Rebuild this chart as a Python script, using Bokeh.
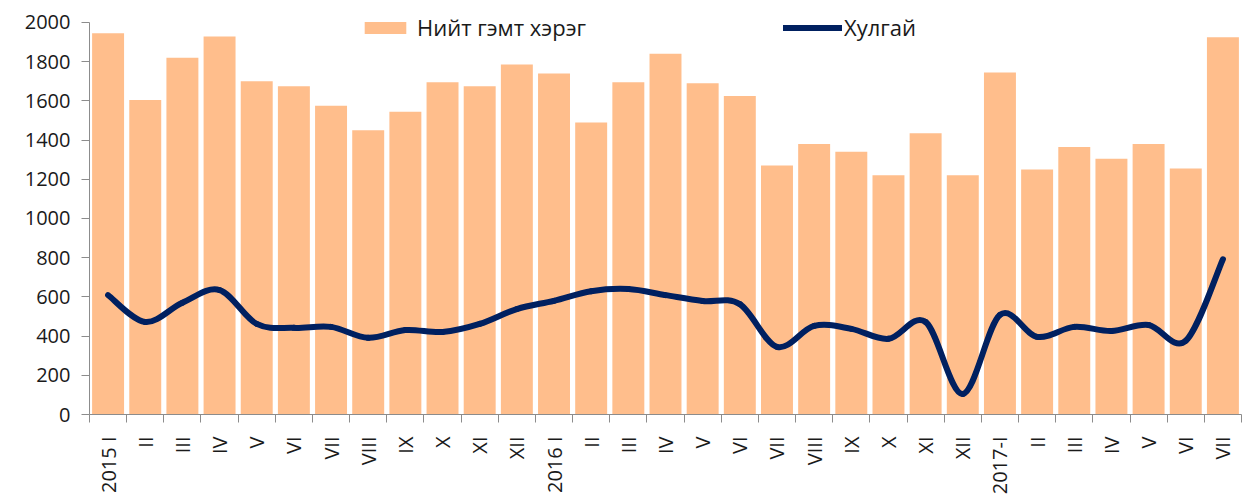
import math
from bokeh.plotting import figure
from bokeh.models import ColumnDataSource, Range1d, FixedTicker, Legend, LegendItem
from bokeh.embed import file_html
from bokeh.resources import INLINE

months = ["2015 I", "II", "III", "IV", "V", "VI", "VII", "VIII", "IX", "X", "XI", "XII",
          "2016 I", "II", "III", "IV", "V", "VI", "VII", "VIII", "IX", "X", "XI", "XII",
          "2017-I", "II", "III", "IV", "V", "VI", "VII"]
total_crime = [1945, 1605, 1820, 1928, 1700, 1675, 1575, 1450, 1545, 1695, 1675, 1785,
               1740, 1490, 1695, 1840, 1690, 1625, 1270, 1380, 1340, 1220, 1435, 1220,
               1745, 1250, 1365, 1305, 1380, 1255, 1925]
theft = [609, 472, 570, 635, 462, 442, 447, 391, 431, 421, 462, 538,
         580, 629, 640, 609, 579, 563, 345, 452, 437, 386, 472, 105,
         508, 396, 447, 426, 457, 376, 792]
y_ticks = [0, 200, 400, 600, 800, 1000, 1200, 1400, 1600, 1800, 2000]

BAR_COLOR = "#FFBE8C"
LINE_COLOR = "#002060"
AXIS_COLOR = "#8C8C8C"
TEXT_COLOR = "#1A1A1A"
FONT = "Open Sans"

n = len(months)
xs = list(range(n))

# frame top sits a little above the 2000 line so the legend is not clipped
p = figure(width=1243, height=497, output_backend="svg", toolbar_location=None,
           x_range=Range1d(-0.5, n - 0.5), y_range=Range1d(0, 2061),
           min_border_left=89, min_border_right=2, min_border_top=10, min_border_bottom=81)
p.outline_line_color = None
p.xgrid.visible = False
p.ygrid.visible = False
p.background_fill_color = "white"
p.border_fill_color = "white"

bar_src = ColumnDataSource(dict(x=xs, top=total_crime))
bars = p.vbar(x="x", top="top", width=0.86, source=bar_src,
              fill_color=BAR_COLOR, line_color=None)

# smoothed line (Excel-style) through the theft values via bezier segments
seg = dict(x0=[], y0=[], x1=[], y1=[], cx0=[], cy0=[], cx1=[], cy1=[])
for i in range(n - 1):
    ip = i - 1 if i > 0 else i
    inx = i + 2 if i + 2 < n else i + 1
    seg["x0"].append(xs[i]); seg["y0"].append(theft[i])
    seg["x1"].append(xs[i + 1]); seg["y1"].append(theft[i + 1])
    seg["cx0"].append(xs[i] + (xs[i + 1] - xs[ip]) / 6.0)
    seg["cy0"].append(theft[i] + (theft[i + 1] - theft[ip]) / 6.0)
    seg["cx1"].append(xs[i + 1] - (xs[inx] - xs[i]) / 6.0)
    seg["cy1"].append(theft[i + 1] - (theft[inx] - theft[i]) / 6.0)
line = p.bezier(x0="x0", y0="y0", x1="x1", y1="y1", cx0="cx0", cy0="cy0",
                cx1="cx1", cy1="cy1", source=ColumnDataSource(seg),
                line_color=LINE_COLOR, line_width=6, line_cap="round")

# axes
ax = p.xaxis[0]
ax.ticker = FixedTicker(ticks=xs, minor_ticks=[i - 0.5 for i in range(n + 1)])
ax.major_label_overrides = {i: m for i, m in enumerate(months)}
ax.major_label_orientation = math.pi / 2
ax.major_tick_out = 0
ax.major_tick_in = 0
ax.minor_tick_out = 8
ax.minor_tick_in = 0
ax.major_label_standoff = 14
ax.axis_line_color = AXIS_COLOR
ax.minor_tick_line_color = AXIS_COLOR
ax.major_label_text_font = FONT
ax.major_label_text_font_size = "20px"
ax.major_label_text_color = TEXT_COLOR

ay = p.yaxis[0]
ay.ticker = FixedTicker(ticks=y_ticks)
ay.bounds = (0, 2000)
ay.major_tick_out = 8
ay.major_tick_in = 0
ay.minor_tick_out = 0
ay.minor_tick_in = 0
ay.major_label_standoff = 11
ay.axis_line_color = AXIS_COLOR
ay.major_tick_line_color = AXIS_COLOR
ay.major_label_text_font = FONT
ay.major_label_text_font_size = "20px"
ay.major_label_text_color = TEXT_COLOR

def make_legend(label, rend, loc, gw, gh, standoff):
    lg = Legend(items=[LegendItem(label=label, renderers=[rend])], location=loc,
                orientation="horizontal", padding=0, margin=0, spacing=0,
                border_line_color=None, background_fill_alpha=0,
                glyph_width=gw, glyph_height=gh, label_standoff=standoff,
                label_text_font=FONT, label_text_font_size="22px",
                label_text_color=TEXT_COLOR, label_height=30)
    return lg

p.add_layout(make_legend("Нийт гэмт хэрэг", bars, (270, 372), 52, 15, 6), "center")
p.add_layout(make_legend("Хулгай", line, (694, 372), 59, 15, 2), "center")

open("out.html", "w").write(file_html(p, INLINE))
